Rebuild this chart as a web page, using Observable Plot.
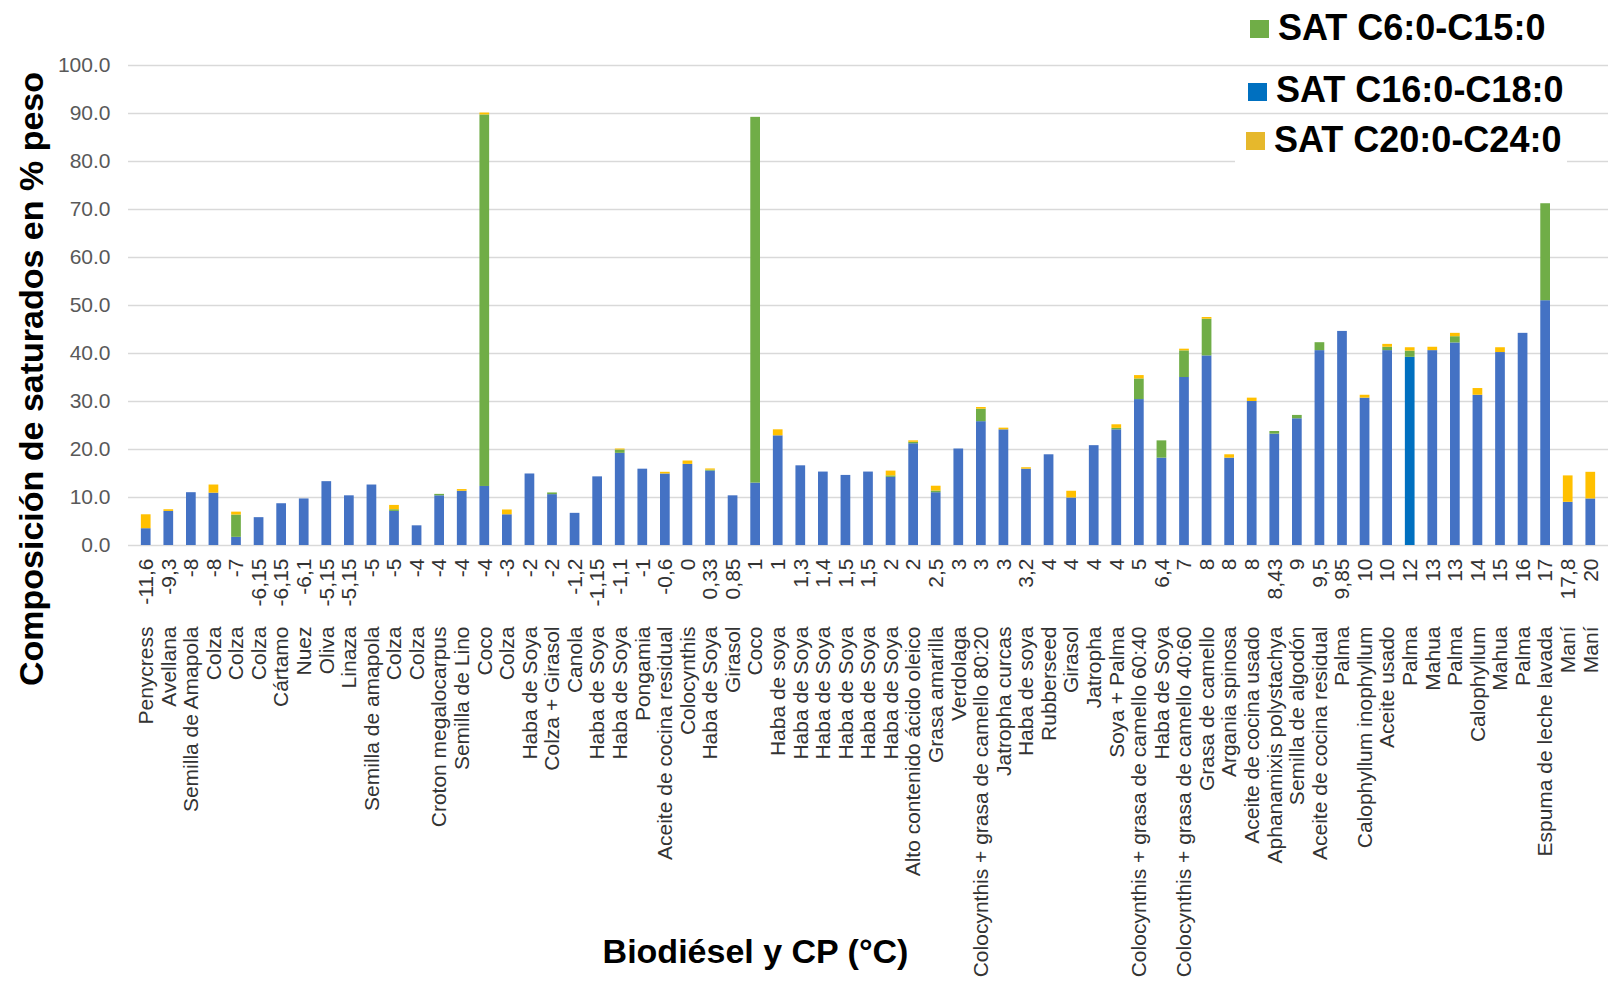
<!DOCTYPE html>
<html><head><meta charset="utf-8">
<script src="https://cdn.jsdelivr.net/npm/d3@7"></script>
<script src="https://cdn.jsdelivr.net/npm/@observablehq/plot@0.6"></script>
<style>
html,body{margin:0;padding:0;background:#fff;overflow:hidden;}
#wrap{position:relative;width:1608px;height:986px;font-family:"Liberation Sans",Arial,sans-serif;}
.leg{position:absolute;font-weight:bold;font-size:36px;line-height:36px;color:#000;white-space:nowrap;}
.sw{position:absolute;width:19px;height:18px;}
.bg{position:absolute;background:#fff;}
</style></head><body><div id="wrap"></div>
<script>
const cp = ["-11,6","-9,3","-8","-8","-7","-6,15","-6,15","-6,1","-5,15","-5,15","-5","-5","-4","-4","-4","-4","-3","-2","-2","-1,2","-1,15","-1,1","-1","-0,6","0","0,33","0,85","1","1","1,3","1,4","1,5","1,5","2","2","2,5","3","3","3","3,2","4","4","4","4","5","6,4","7","8","8","8","8,43","9","9,5","9,85","10","10","12","13","13","14","15","16","17","17,8","20"];
const names = ["Penycress","Avellana","Semilla de Amapola","Colza","Colza","Colza","Cártamo","Nuez","Oliva","Linaza","Semilla de amapola","Colza","Colza","Croton megalocarpus","Semilla de Lino","Coco","Colza","Haba de Soya","Colza + Girasol","Canola","Haba de Soya","Haba de Soya","Pongamia","Aceite de cocina residual","Colocynthis","Haba de Soya","Girasol","Coco","Haba de soya","Haba de Soya","Haba de Soya","Haba de Soya","Haba de Soya","Haba de Soya","Alto contenido ácido oleico","Grasa amarilla","Verdolaga","Colocynthis + grasa de camello 80:20","Jatropha curcas","Haba de soya","Rubberseed","Girasol","Jatropha","Soya + Palma","Colocynthis + grasa de camello 60:40","Haba de Soya","Colocynthis + grasa de camello 40:60","Grasa de camello","Argania spinosa","Aceite de cocina usado","Aphanamixis polystachya","Semilla de algodón","Aceite de cocina residual","Palma","Calophyllum inophyllum","Aceite usado","Palma","Mahua","Palma","Calophyllum","Mahua","Palma","Espuma de leche lavada","Maní","Maní"];
// SAT C16:0-C18:0
const sat16 = [3.5,7.1,11.0,10.9,1.7,5.8,8.7,9.7,13.3,10.35,12.6,7.1,4.1,10.35,11.3,12.3,6.4,14.9,10.6,6.7,14.3,19.2,15.9,14.9,16.9,15.5,10.35,13.0,22.85,16.6,15.3,14.6,15.3,14.2,21.2,11.0,20.1,25.8,24.1,15.9,18.9,9.9,20.8,24.1,30.4,18.2,35.0,39.5,18.2,30.0,23.2,26.4,40.6,44.6,30.7,40.6,39.2,40.6,42.2,31.3,40.2,44.2,51.0,9.0,9.7];
// SAT C6:0-C15:0
const sat6 = [0,0,0,0,4.65,0,0,0,0,0,0,0.35,0,0.3,0,77.4,0,0,0.35,0,0,0.7,0,0,0,0.2,0,76.2,0,0,0,0,0,0.3,0.3,0.35,0,2.6,0,0,0,0,0,0.3,4.3,3.6,5.55,7.65,0,0,0.55,0.7,1.65,0,0,0.7,1.3,0,1.3,0,0,0,20.2,0,0];
// SAT C20:0-C24:0
const sat20 = [2.9,0.35,0,1.7,0.6,0,0,0,0,0,0,0.9,0,0,0.35,0.4,1.0,0,0,0,0,0.2,0,0.35,0.7,0.25,0,0,1.25,0,0,0,0,1.0,0.3,1.0,0,0.35,0.35,0.3,0,1.4,0,0.75,0.7,0,0.35,0.35,0.7,0.7,0,0,0,0,0.6,0.6,0.7,0.7,0.7,1.4,1.0,0,0,5.5,5.55];
const yTicks = [0,10,20,30,40,50,60,70,80,90,100];
const seriesNames = ["SAT C6:0-C15:0","SAT C16:0-C18:0","SAT C20:0-C24:0"];
const seriesColors = ["#70AD47","#4472C4","#FFC000"];
const legendColors = ["#70AD47","#0070C0","#E6B82C"];
const highlightIndex = 56; // Palma 12 drawn in a different blue
const yTitle = "Composición de saturados en % peso";
const xTitle = "Biodiésel y CP (°C)";

const idx = d3.range(cp.length);
const rows = [];
for (const i of idx) {
  rows.push({i, series: seriesNames[1], value: sat16[i], fill: i === highlightIndex ? "#0070C0" : seriesColors[1]});
  rows.push({i, series: seriesNames[0], value: sat6[i], fill: seriesColors[0]});
  rows.push({i, series: seriesNames[2], value: sat20[i], fill: seriesColors[2]});
}

const chart = Plot.plot({
  width: 1608, height: 986,
  marginLeft: 128, marginRight: 0, marginTop: 65, marginBottom: 441,
  style: {fontFamily: '"Liberation Sans", Arial, sans-serif', background: "white"},
  x: {type: "band", domain: idx, padding: 0.57, axis: null},
  y: {domain: [0, 100], axis: null},
  color: {type: "identity"},
  marks: [
    Plot.ruleY(yTicks, {stroke: "#d9d9d9", strokeWidth: 1.3}),
    Plot.barY(rows, {x: "i", y: "value", fill: "fill", z: "series"}),
    Plot.text(yTicks, {y: d => d, text: d => d.toFixed(1), frameAnchor: "left", textAnchor: "end", dx: -18, fontSize: 21, fill: "#595959"}),
    Plot.text(idx, {x: d => d, text: d => cp[d], frameAnchor: "bottom", rotate: -90, textAnchor: "end", lineAnchor: "middle", dy: 13, fontSize: 21, fill: "#333"}),
    Plot.text(idx, {x: d => d, text: d => names[d], frameAnchor: "bottom", rotate: -90, textAnchor: "end", lineAnchor: "middle", dy: 81, fontSize: 21, fill: "#333"}),
    Plot.text([yTitle], {text: d => d, frameAnchor: "left", rotate: -90, textAnchor: "middle", lineAnchor: "middle", dx: -96, dy: 73.5, fontSize: 34, fontWeight: "bold", fill: "#000"}),
    Plot.text([xTitle], {text: d => d, frameAnchor: "bottom", textAnchor: "middle", lineAnchor: "middle", dx: -113, dy: 407, fontSize: 34, fontWeight: "bold", fill: "#000"})
  ]
});
const wrap = document.getElementById("wrap");
wrap.appendChild(chart);

// legend overlay (inside the plot area, top right)
const legPos = [
  {sx: 1250, sy: 20, tx: 1278, ty: 9.5},
  {sx: 1248, sy: 83, tx: 1276, ty: 71.5},
  {sx: 1246, sy: 132, tx: 1274, ty: 121.5}
];
const bg = document.createElement("div");
bg.className = "bg";
Object.assign(bg.style, {left: "1235px", top: "119px", width: "332px", height: "48px"});
wrap.appendChild(bg);
seriesNames.forEach((s, k) => {
  const sw = document.createElement("div");
  sw.className = "sw";
  Object.assign(sw.style, {left: legPos[k].sx + "px", top: legPos[k].sy + "px", background: legendColors[k]});
  wrap.appendChild(sw);
  const t = document.createElement("div");
  t.className = "leg";
  t.textContent = s;
  Object.assign(t.style, {left: legPos[k].tx + "px", top: legPos[k].ty + "px"});
  wrap.appendChild(t);
});
</script>
</body></html>
